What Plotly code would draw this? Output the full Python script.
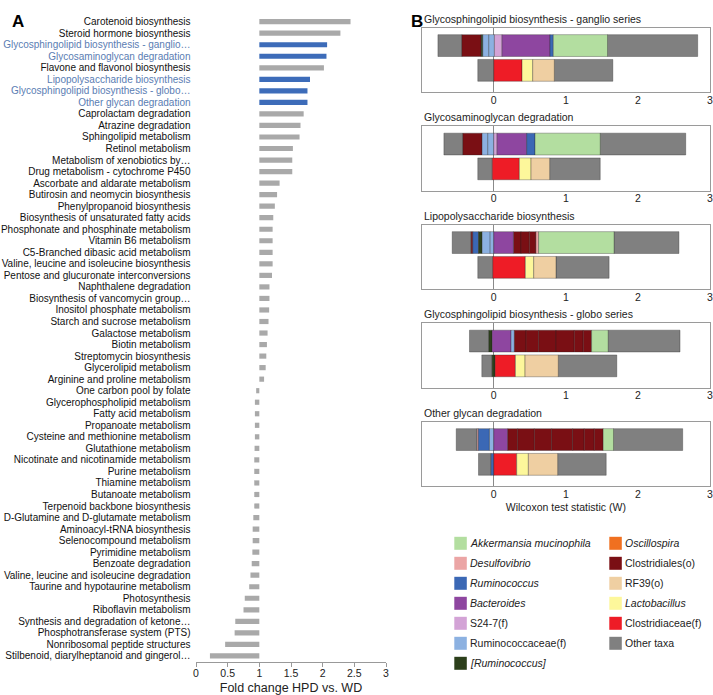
import plotly.graph_objects as go

W, H = 713, 695

# ---------------- Panel A data ----------------
pathways = [
    "Carotenoid biosynthesis", "Steroid hormone biosynthesis",
    "Glycosphingolipid biosynthesis - ganglio…", "Glycosaminoglycan degradation",
    "Flavone and flavonol biosynthesis", "Lipopolysaccharide biosynthesis",
    "Glycosphingolipid biosynthesis - globo…", "Other glycan degradation",
    "Caprolactam degradation", "Atrazine degradation", "Sphingolipid metabolism",
    "Retinol metabolism", "Metabolism of xenobiotics by…",
    "Drug metabolism - cytochrome P450", "Ascorbate and aldarate metabolism",
    "Butirosin and neomycin biosynthesis", "Phenylpropanoid biosynthesis",
    "Biosynthesis of unsaturated fatty acids", "Phosphonate and phosphinate metabolism",
    "Vitamin B6 metabolism", "C5-Branched dibasic acid metabolism",
    "Valine, leucine and isoleucine biosynthesis", "Pentose and glucuronate interconversions",
    "Naphthalene degradation", "Biosynthesis of vancomycin group…",
    "Inositol phosphate metabolism", "Starch and sucrose metabolism",
    "Galactose metabolism", "Biotin metabolism", "Streptomycin biosynthesis",
    "Glycerolipid metabolism", "Arginine and proline metabolism",
    "One carbon pool by folate", "Glycerophospholipid metabolism",
    "Fatty acid metabolism", "Propanoate metabolism",
    "Cysteine and methionine metabolism", "Glutathione metabolism",
    "Nicotinate and nicotinamide metabolism", "Purine metabolism",
    "Thiamine metabolism", "Butanoate metabolism", "Terpenoid backbone biosynthesis",
    "D-Glutamine and D-glutamate metabolism", "Aminoacyl-tRNA biosynthesis",
    "Selenocompound metabolism", "Pyrimidine metabolism", "Benzoate degradation",
    "Valine, leucine and isoleucine degradation", "Taurine and hypotaurine metabolism",
    "Photosynthesis", "Riboflavin metabolism", "Synthesis and degradation of ketone…",
    "Phosphotransferase system (PTS)", "Nonribosomal peptide structures",
    "Stilbenoid, diarylheptanoid and gingerol…",
]
fold_change = [
    2.44, 2.28, 2.07, 2.06, 2.02, 1.80, 1.76, 1.76, 1.70, 1.65, 1.635, 1.53, 1.52,
    1.52, 1.32, 1.28, 1.245, 1.22, 1.21, 1.21, 1.21, 1.21, 1.20, 1.16, 1.16, 1.155,
    1.145, 1.13, 1.12, 1.11, 1.10, 1.075, 0.95, 0.93, 0.93, 0.93, 0.93, 0.925, 0.92,
    0.92, 0.92, 0.92, 0.92, 0.905, 0.895, 0.895, 0.89, 0.88, 0.86, 0.84, 0.77, 0.75,
    0.62, 0.61, 0.46, 0.22,
]
highlighted = [
    "Glycosphingolipid biosynthesis - ganglio…", "Glycosaminoglycan degradation",
    "Lipopolysaccharide biosynthesis", "Glycosphingolipid biosynthesis - globo…",
    "Other glycan degradation",
]
x_ticks_a = [0, 0.5, 1, 1.5, 2, 2.5, 3]

# ---------------- Panel B data ----------------
taxa_col1 = ["Akkermansia mucinophila", "Desulfovibrio", "Ruminococcus", "Bacteroides",
             "S24-7(f)", "Ruminococcaceae(f)", "[Ruminococcus]"]
taxa_col2 = ["Oscillospira", "Clostridiales(o)", "RF39(o)", "Lactobacillus",
             "Clostridiaceae(f)", "Other taxa"]
italic_taxa = ["Akkermansia mucinophila", "Desulfovibrio", "Ruminococcus", "Bacteroides",
               "[Ruminococcus]", "Oscillospira", "Lactobacillus"]
taxa_colors = {
    "Akkermansia mucinophila": "#b3dea0", "Desulfovibrio": "#eba5a5",
    "Ruminococcus": "#3b68b5", "Bacteroides": "#8e46a0", "S24-7(f)": "#d3a3d6",
    "Ruminococcaceae(f)": "#8cb1e1", "[Ruminococcus]": "#2c3f1b",
    "Oscillospira": "#f07020", "Clostridiales(o)": "#7a0f14", "RF39(o)": "#efcfa2",
    "Lactobacillus": "#fdf79b", "Clostridiaceae(f)": "#ee1c26", "Other taxa": "#808080",
}

panel_titles = [
    "Glycosphingolipid biosynthesis - ganglio series",
    "Glycosaminoglycan degradation",
    "Lipopolysaccharide biosynthesis",
    "Glycosphingolipid biosynthesis - globo series",
    "Other glycan degradation",
]

# top bar of each panel: start value, ordered taxa, contributions
ganglio_top_start = -0.775
ganglio_top_taxa = ["Other taxa", "Clostridiales(o)", "[Ruminococcus]", "Ruminococcaceae(f)",
                    "Ruminococcaceae(f)", "S24-7(f)", "Bacteroides", "Ruminococcus",
                    "Akkermansia mucinophila", "Other taxa"]
ganglio_top_w = [0.332, 0.268, 0.023, 0.083, 0.078, 0.106, 0.665, 0.046, 0.752, 1.251]
ganglio_bot_start = -0.222
ganglio_bot_taxa = ["Other taxa", "Clostridiaceae(f)", "Lactobacillus", "RF39(o)", "Other taxa"]
ganglio_bot_w = [0.222, 0.392, 0.148, 0.300, 0.812]

gag_top_start = -0.692
gag_top_taxa = ["Other taxa", "Clostridiales(o)", "Ruminococcaceae(f)", "Ruminococcaceae(f)",
                "S24-7(f)", "Bacteroides", "Ruminococcus", "Akkermansia mucinophila",
                "Other taxa"]
gag_top_w = [0.263, 0.267, 0.079, 0.083, 0.046, 0.411, 0.115, 0.905, 1.186]
gag_bot_start = -0.222
gag_bot_taxa = ["Other taxa", "Clostridiaceae(f)", "Lactobacillus", "RF39(o)", "Other taxa"]
gag_bot_w = [0.202, 0.375, 0.162, 0.258, 0.702]

lps_top_start = -0.577
lps_top_taxa = ["Other taxa", "Clostridiales(o)", "Ruminococcus", "[Ruminococcus]",
                "Ruminococcaceae(f)", "Ruminococcaceae(f)", "Bacteroides", "Clostridiales(o)",
                "Clostridiales(o)", "Clostridiales(o)", "Desulfovibrio",
                "Akkermansia mucinophila", "Other taxa"]
lps_top_w = [0.263, 0.023, 0.079, 0.050, 0.112, 0.050, 0.272, 0.106, 0.115, 0.092, 0.037,
             1.047, 0.900]
lps_bot_start = -0.222
lps_bot_taxa = ["Other taxa", "Clostridiaceae(f)", "Lactobacillus", "RF39(o)", "Other taxa"]
lps_bot_w = [0.208, 0.452, 0.116, 0.309, 0.737]

globo_top_start = -0.337
globo_top_taxa = ["Other taxa", "[Ruminococcus]", "Bacteroides", "Ruminococcaceae(f)",
                  "Clostridiales(o)", "Clostridiales(o)", "Clostridiales(o)",
                  "Clostridiales(o)", "Clostridiales(o)", "Clostridiales(o)",
                  "Akkermansia mucinophila", "Other taxa"]
globo_top_w = [0.268, 0.046, 0.263, 0.046, 0.162, 0.175, 0.240, 0.254, 0.124, 0.116, 0.230,
               0.997]
globo_bot_start = -0.166
globo_bot_taxa = ["Other taxa", "[Ruminococcus]", "Clostridiaceae(f)", "Lactobacillus",
                  "RF39(o)", "Other taxa"]
globo_bot_w = [0.143, 0.041, 0.282, 0.134, 0.461, 0.812]

oglycan_top_start = -0.521
oglycan_top_taxa = ["Other taxa", "Desulfovibrio", "Ruminococcus", "Ruminococcaceae(f)",
                    "Bacteroides", "Clostridiales(o)", "Clostridiales(o)", "Clostridiales(o)",
                    "Clostridiales(o)", "Clostridiales(o)", "Clostridiales(o)",
                    "Clostridiales(o)", "Akkermansia mucinophila", "Other taxa"]
oglycan_top_w = [0.290, 0.018, 0.153, 0.060, 0.194, 0.138, 0.231, 0.240, 0.291, 0.161, 0.139,
                 0.124, 0.143, 0.960]
oglycan_bot_start = -0.212
oglycan_bot_taxa = ["Other taxa", "Ruminococcus", "Clostridiaceae(f)", "Lactobacillus",
                    "RF39(o)", "Other taxa"]
oglycan_bot_w = [0.175, 0.037, 0.318, 0.162, 0.406, 0.674]

panels = [
    (ganglio_top_start, ganglio_top_taxa, ganglio_top_w, ganglio_bot_start, ganglio_bot_taxa, ganglio_bot_w),
    (gag_top_start, gag_top_taxa, gag_top_w, gag_bot_start, gag_bot_taxa, gag_bot_w),
    (lps_top_start, lps_top_taxa, lps_top_w, lps_bot_start, lps_bot_taxa, lps_bot_w),
    (globo_top_start, globo_top_taxa, globo_top_w, globo_bot_start, globo_bot_taxa, globo_bot_w),
    (oglycan_top_start, oglycan_top_taxa, oglycan_top_w, oglycan_bot_start, oglycan_bot_taxa, oglycan_bot_w),
]
x_ticks_b = [0, 1, 2, 3]

FONT = "Liberation Sans, Arial, sans-serif"
fig = go.Figure()

# ---------------- Panel A ----------------
n = len(pathways)
ypos = list(range(n))
bar_colors = ["#3d6cb9" if p in highlighted else "#a9a9a9" for p in pathways]
fig.add_trace(go.Bar(
    x=[v - 1 for v in fold_change], base=[1] * n, y=ypos, orientation="h",
    marker=dict(color=bar_colors, line=dict(width=0)), width=0.45,
    showlegend=False, xaxis="x", yaxis="y", hoverinfo="skip",
))
ticktext = []
for p in pathways:
    label = p
    if p in highlighted:
        label = '<span style="color:#5a7db3">' + label + "</span>"
    ticktext.append(label)

ax_l, ax_r = 196 / W, 386 / W
ay_b, ay_t = (H - 661.7) / H, (H - 15.9) / H
x_one = ax_l + (ax_r - ax_l) * (1 - 0) / (3 - 0)

fig.update_layout(
    xaxis=dict(domain=[ax_l, ax_r], range=[0, 3], tickvals=x_ticks_a, ticks="outside",
               ticklen=4, tickcolor="#999", showline=True, linecolor="#999",
               showgrid=False, zeroline=False, anchor="y", automargin=False,
               ticklabelstandoff=-2, ticklabeloverflow="allow",
               tickfont=dict(size=10.5, color="#222"),
               title=dict(text="Fold change HPD vs. WD", font=dict(size=12.5, color="#222"),
                          standoff=6)),
    yaxis=dict(domain=[ay_b, ay_t], range=[n - 0.5, -0.5], tickvals=ypos, ticktext=ticktext,
               anchor="free", position=190.5 / W, showline=False, showgrid=False,
               zeroline=False, ticks="", automargin=False, ticklabeloverflow="allow",
               tickfont=dict(size=10, color="#111")),
    yaxis2=dict(domain=[ay_b, ay_t], range=[n - 0.5, -0.5], overlaying="y", anchor="free",
                position=x_one, showline=True, linecolor="#999", ticks="outside",
                ticklen=3, tickcolor="#999", automargin=False,
                tickvals=[i - 0.5 for i in range(n + 1)], showticklabels=False,
                showgrid=False, zeroline=False),
)

# ---------------- Panel B ----------------
bx_l, bx_r = 421.7 / W, 710 / W
box_h = 64.5
box_tops = [27.7 + 98.5 * k for k in range(5)]


def disp(t):
    return "<i>" + t + "</i>" if t in italic_taxa else t


annotations = []
for k, (ts, tt, tw, bs, bt, bw) in enumerate(panels):
    xa, ya = "x%d" % (k + 2), "y%d" % (k + 3)
    per = {}
    for start, tx, wd, row in ((ts, tt, tw, 1), (bs, bt, bw, 0)):
        cur = start
        for t, w_ in zip(tx, wd):
            per.setdefault(t, {"x": [], "base": [], "y": []})
            per[t]["x"].append(w_)
            per[t]["base"].append(cur)
            per[t]["y"].append(row)
            cur += w_
    for t, d in per.items():
        fig.add_trace(go.Bar(
            x=d["x"], base=d["base"], y=d["y"], orientation="h", width=0.88,
            marker=dict(color=taxa_colors[t], line=dict(width=0.6, color="rgba(30,30,30,0.55)")),
            name=t, showlegend=False, xaxis=xa, yaxis=ya, hoverinfo="skip",
        ))
    top = box_tops[k]
    dom = [(H - top - box_h) / H, (H - top) / H]
    xkey, ykey = "xaxis%d" % (k + 2), "yaxis%d" % (k + 3)
    xdict = dict(domain=[bx_l, bx_r], range=[-1, 3], tickvals=x_ticks_b, ticks="",
                 showline=True, mirror=True, linecolor="#9a9a9a", showgrid=False,
                 zeroline=True, zerolinecolor="#8a8a8a", zerolinewidth=1, anchor=ya,
                 automargin=False, ticklabelstandoff=-2, ticklabeloverflow="allow",
                 tickfont=dict(size=10.5, color="#222"))
    if k == 4:
        xdict["title"] = dict(text="Wilcoxon test statistic (W)",
                              font=dict(size=10.5, color="#222"), standoff=4)
    fig.update_layout({
        xkey: xdict,
        ykey: dict(domain=dom, range=[-0.88, 1.72], showticklabels=False, ticks="",
                   showline=True, mirror=True, linecolor="#9a9a9a", showgrid=False,
                   zeroline=False, anchor=xa, automargin=False),
    })
    annotations.append(dict(text=panel_titles[k], xref="paper", yref="paper",
                            x=bx_l, y=(H - (top - 9)) / H, xanchor="left", yanchor="middle",
                            showarrow=False, font=dict(size=10.5, color="#222")))

# ---------------- Legend (two columns, swatch + label) ----------------
shapes = []
legend_cols = [(454.3, taxa_col1), (609.3, taxa_col2)]
for x0, col in legend_cols:
    for i, t in enumerate(col):
        cy = 543.3 + 20 * i
        shapes.append(dict(type="rect", xref="paper", yref="paper",
                           x0=x0 / W, x1=(x0 + 12.5) / W,
                           y0=(H - cy - 6.5) / H, y1=(H - cy + 6.5) / H,
                           fillcolor=taxa_colors[t], line=dict(width=0)))
        annotations.append(dict(text=disp(t), xref="paper", yref="paper",
                                x=(x0 + 14) / W, y=(H - cy) / H, xanchor="left",
                                yanchor="middle", showarrow=False,
                                font=dict(size=10.5, color="#222")))

annotations += [
    dict(text="<b>A</b>", xref="paper", yref="paper", x=10 / W, y=(H - 10) / H,
         showarrow=False, font=dict(size=17, color="#000")),
    dict(text="<b>B</b>", xref="paper", yref="paper", x=417 / W, y=(H - 10) / H,
         showarrow=False, font=dict(size=17, color="#000")),
]

fig.update_layout(
    width=W, height=H, margin=dict(l=0, r=0, t=0, b=0, autoexpand=False),
    paper_bgcolor="white", plot_bgcolor="white",
    font=dict(family=FONT, color="#222"),
    barmode="overlay", annotations=annotations, shapes=shapes, showlegend=False,
)

fig.write_html("out.html", config={"displayModeBar": False},
               post_script="document.body.style.margin='0px';")
